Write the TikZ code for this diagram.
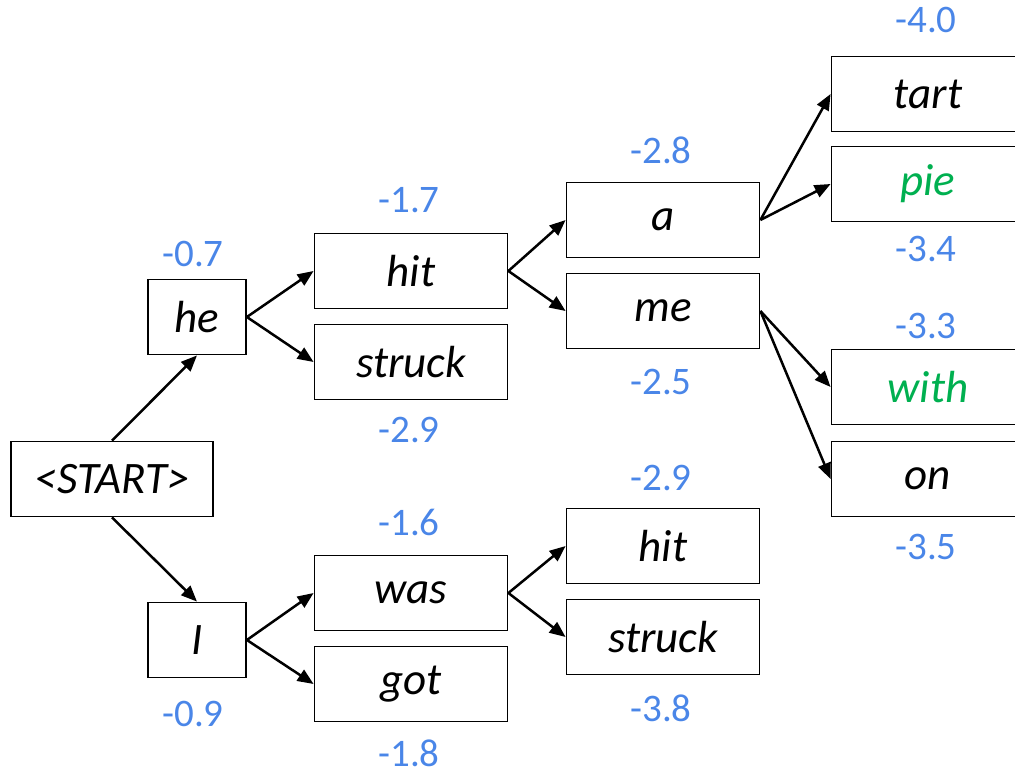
\documentclass[tikz,border=0pt]{standalone}
\usepackage{fontspec}
\setmainfont{Carlito}
\usetikzlibrary{arrows.meta}
\definecolor{scoreblue}{RGB}{74,134,232}
\definecolor{wordgreen}{RGB}{0,176,80}
\tikzset{
  word/.style={draw=black, line width=1.8pt, fill=white, minimum height=75pt, inner sep=0pt,
    font=\fontsize{45}{50}\selectfont\itshape},
  small/.style={word, minimum width=98pt},
  wide/.style={word, minimum width=193pt},
  score/.style={text=scoreblue, font=\fontsize{39}{44}\selectfont, inner sep=0pt},
  link/.style={line width=2.5pt, -{Triangle[length=16pt,width=13pt]}}
}
\begin{document}
\begin{tikzpicture}[x=1pt,y=-1pt]
\useasboundingbox (0,0) rectangle (1015,771);
\clip (0,0) rectangle (1015,771);
% nodes
\node[wide, minimum width=202pt] (start) at (112,479) {<START>};
\node[small] (he) at (197,317) {he};
\node[small] (I) at (197,640) {I};
\node[wide] (hit) at (411,271) {hit};
\node[wide] (struck) at (411,362) {struck};
\node[wide] (was) at (411,593) {was};
\node[wide] (got) at (411,684) {got};
\node[wide] (a) at (663,220) {a};
\node[wide] (me) at (663,311) {me};
\node[wide] (hitb) at (663,546) {hit};
\node[wide] (struckb) at (663,637) {struck};
\node[wide] (tart) at (928,94) {tart};
\node[wide, text=wordgreen] (pie) at (928,184) {pie};
\node[wide, text=wordgreen] (with) at (928,387) {with};
\node[wide] (on) at (928,479) {on};
% scores
\node[score] (s1) at (193,254) {-0.7};
\node[score] (s2) at (193,714) {-0.9};
\node[score] (s3) at (409,200) {-1.7};
\node[score] (s4) at (409,430) {-2.9};
\node[score] (s5) at (409,522) {-1.6};
\node[score] (s6) at (409,753) {-1.8};
\node[score] (s7) at (661,150) {-2.8};
\node[score] (s8) at (661,382) {-2.5};
\node[score] (s9) at (661,478) {-2.9};
\node[score] (s10) at (661,708) {-3.8};
\node[score] (s11) at (926,20) {-4.0};
\node[score] (s12) at (926,249) {-3.4};
\node[score] (s13) at (926,326) {-3.3};
\node[score] (s14) at (926,547) {-3.5};
% links
\draw[link] (start.north) -- (he.south);
\draw[link] (start.south) -- (I.north);
\draw[link] (he.east) -- (hit.west);
\draw[link] (he.east) -- (struck.west);
\draw[link] (I.east) -- (was.west);
\draw[link] (I.east) -- (got.west);
\draw[link] (hit.east) -- (a.west);
\draw[link] (hit.east) -- (me.west);
\draw[link] (was.east) -- (hitb.west);
\draw[link] (was.east) -- (struckb.west);
\draw[link] (a.east) -- (tart.west);
\draw[link] (a.east) -- (pie.west);
\draw[link] (me.east) -- (with.west);
\draw[link] (me.east) -- (on.west);
\end{tikzpicture}
\end{document}
